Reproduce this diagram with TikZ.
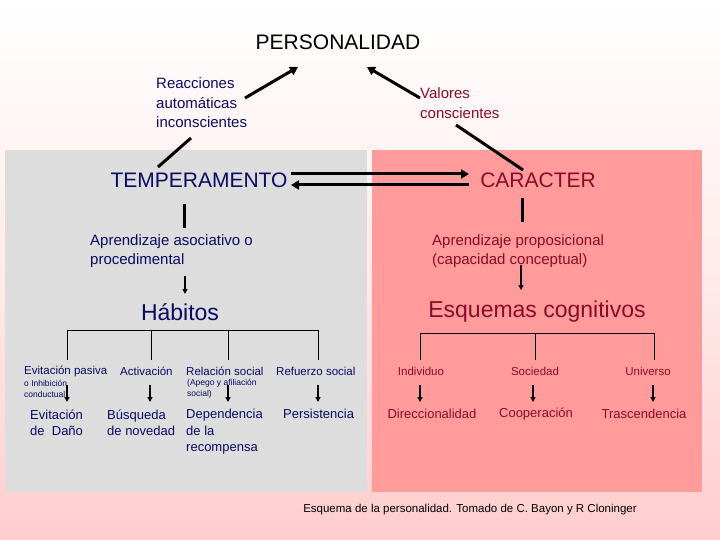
\documentclass[tikz,border=0pt]{standalone}
\usepackage{fontspec}
\setmainfont{Liberation Sans}
\usetikzlibrary{arrows.meta}
\definecolor{navy}{RGB}{10,10,100}
\definecolor{dred}{RGB}{140,10,40}
\definecolor{lgray}{RGB}{221,221,221}
\definecolor{rpink}{RGB}{255,155,155}
\definecolor{bgpink}{RGB}{255,205,205}
\begin{document}
\begin{tikzpicture}[x=1pt,y=-1pt,
  thk/.style={line width=3pt,-{Triangle[length=8pt,width=9pt]}},
  bar/.style={line width=3pt},
  sm/.style={-{Triangle[length=5pt,width=5pt]},line width=1.5pt},
  br/.style={line width=0.8pt},
  txt/.style={inner sep=1pt,align=left,anchor=west}]
\useasboundingbox (0,0) rectangle (720,540);
\shade[top color=white,bottom color=bgpink,middle color=white!60!bgpink] (0,0) rectangle (720,540);
\fill[lgray] (5,150) rectangle (367,492);
\fill[rpink] (372,150) rectangle (702,492);

\node[font=\fontsize{21}{25}\selectfont] (per) at (338,42) {PERSONALIDAD};
\node[txt,text=navy,font=\fontsize{15}{19.5}\selectfont] (rea) at (155,103) {Reacciones\\automáticas\\inconscientes};
\node[txt,text=dred,font=\fontsize{15}{19.5}\selectfont] (val) at (419,103) {Valores\\conscientes};
\node[text=navy,font=\fontsize{21}{25}\selectfont] (tem) at (199,180) {TEMPERAMENTO};
\node[text=dred,font=\fontsize{21}{25}\selectfont] (car) at (538,180) {CARACTER};

\coordinate (a1) at (245,98); \coordinate (a1e) at (298,67);
\draw[thk] (a1) -- (a1e);
\coordinate (a2) at (420,98); \coordinate (a2e) at (367,67);
\draw[thk] (a2) -- (a2e);
\coordinate (l1a) at (158,167); \coordinate (l1b) at (191,138);
\draw[bar] (l1a) -- (l1b);
\coordinate (l2a) at (456,125); \coordinate (l2b) at (523,170);
\draw[bar] (l2a) -- (l2b);
\draw[thk] (tem.east |- 0,174) -- (469,174);
\draw[thk] (469,185) -- (tem.east |- 0,185);

% left chain
\node[txt,text=navy,font=\fontsize{15}{19}\selectfont] (apa) at (89,251) {Aprendizaje asociativo o\\procedimental};
\draw[bar] (184,204) -- (184,228);
\node[text=navy,font=\fontsize{23}{27}\selectfont] (hab) at (180,312) {Hábitos};
\draw[sm] (185,276) -- (185,294);
\draw[br] (67,360) -- (67,330) -- (318,330) -- (318,360);
\draw[br] (151,330) -- (151,360); \draw[br] (228,330) -- (228,360);

\begin{scope}[every node/.style={txt,text=navy}]
\node[font=\fontsize{11.5}{14}\selectfont] (e1) at (23,371) {Evitación pasiva};
\node[font=\fontsize{8.5}{11}\selectfont] (e1b) at (23,389) {o Inhibición\\conductual};
\node[font=\fontsize{11.5}{14}\selectfont] (e2) at (119,371) {Activación};
\node[font=\fontsize{11.5}{14}\selectfont] (e3) at (185,371) {Relación social};
\node[font=\fontsize{8.5}{11}\selectfont] (e3b) at (186,389) {(Apego y afiliación\\social)};
\node[font=\fontsize{11.5}{14}\selectfont] (e4) at (275,371) {Refuerzo social};
\node[font=\fontsize{13}{16.5}\selectfont] (f1) at (29,423) {Evitación\\de\ \ Daño};
\node[font=\fontsize{13}{16.5}\selectfont] (f2) at (106,423) {Búsqueda\\de novedad};
\node[font=\fontsize{13}{16.5}\selectfont] (f3) at (185,432) {Dependencia\\de la\\recompensa};
\node[font=\fontsize{13}{16.5}\selectfont] (f4) at (282,414) {Persistencia};
\end{scope}
\foreach \x in {67,150,228,318} \draw[sm] (\x,385) -- (\x,402);

% right chain
\draw[bar] (522,198) -- (522,222);
\node[txt,text=dred,font=\fontsize{15}{19}\selectfont] (app) at (431,251) {Aprendizaje proposicional\\(capacidad conceptual)};
\draw[sm] (521,265) -- (521,290);
\node[text=dred,font=\fontsize{23}{27}\selectfont] (esq) at (537,312) {Esquemas cognitivos};
\draw[br] (420,360) -- (420,333) -- (654,333) -- (654,360);
\draw[br] (535,333) -- (535,360);
\begin{scope}[every node/.style={text=dred,inner sep=1pt}]
\node[font=\fontsize{11.5}{14}\selectfont] (i1) at (421,371) {Individuo};
\node[font=\fontsize{11.5}{14}\selectfont] (i2) at (535,371) {Sociedad};
\node[font=\fontsize{11.5}{14}\selectfont] (i3) at (648,371) {Universo};
\node[font=\fontsize{13}{16}\selectfont] (j1) at (432,414) {Direccionalidad};
\node[font=\fontsize{13}{16}\selectfont] (j2) at (536,414) {Cooperación};
\node[font=\fontsize{13}{16}\selectfont] (j3) at (644,414) {Trascendencia};
\end{scope}
\foreach \x in {420,533,653} \draw[sm] (\x,385) -- (\x,402);

\node[font=\fontsize{11.5}{14}\selectfont] (cap) at (470,510) {Esquema de la personalidad. Tomado de C. Bayon y R Cloninger};
\end{tikzpicture}
\end{document}
